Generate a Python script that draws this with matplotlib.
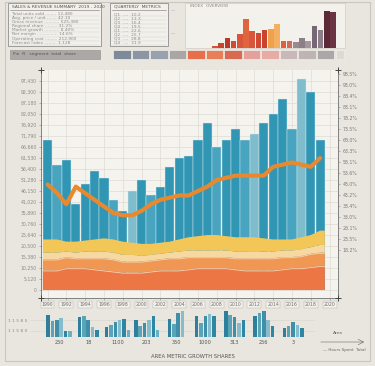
import numpy as np
import matplotlib
matplotlib.use("Agg")
import matplotlib.pyplot as plt
from matplotlib.patches import Rectangle

# ============================================================
# DATA
# ============================================================

bar_values = [68, 57, 59, 39, 48, 54, 51, 41, 36, 45, 50, 43, 47, 56, 60,
              61, 68, 76, 65, 68, 73, 68, 71, 76, 80, 87, 73, 96, 90, 68]
bar_shade = [0, 1, 0, 0, 0, 0, 0, 1, 0, 2, 0, 1, 0, 0, 0,
             0, 0, 0, 1, 0, 0, 1, 2, 0, 0, 0, 1, 2, 0, 0]
trend_line = [48, 44, 39, 47, 44, 41, 38, 35, 34, 34, 36, 39, 41, 42, 43,
              43, 45, 47, 50, 51, 52, 52, 52, 52, 56, 57, 58, 57, 56, 60]

band_dark = [9, 9, 10, 10, 10, 9.5, 9, 8.5, 8, 8, 8, 8.5, 9, 9, 9,
             9.5, 10, 10, 10, 10, 9.5, 9, 9, 9, 9, 9.5, 10, 10, 10.5, 11]
band_mid = [5, 5, 5, 4.5, 4.5, 5, 5.5, 5.5, 5, 5, 5, 5, 5, 5.5, 5.5,
            5.5, 5, 5, 5, 5, 5, 5.5, 5.5, 5.5, 5.5, 5.5, 5, 5.5, 6, 6]
band_cream = [3, 3, 2.5, 2.5, 3, 3, 3, 3, 3, 3, 2.5, 2.5, 2.5, 2.5, 3,
              3, 3, 3, 3, 3, 3, 3, 3, 3, 3, 3, 3, 3, 3, 3.5]
band_yellow = [6, 6, 4.5, 5, 5, 5.5, 6, 6, 6, 5.5, 5.5, 5, 5, 5, 5.5,
               6, 6.5, 7, 7, 6.5, 6.5, 6.5, 6.5, 6, 5.5, 5, 5, 5.5, 5.5, 6.5]

x_labels = ["1990", "1992", "1994", "1996", "1998", "2000", "2002", "2004",
            "2006", "2008", "2010", "2012", "2014", "2016", "2018", "2020"]
left_labels = ["0", "5,120", "10,250", "15,380", "20,500", "25,640", "30,760",
               "35,890", "41,020", "46,150", "51,280", "56,400", "61,530",
               "66,660", "71,790", "76,920", "82,050", "87,180", "92,300",
               "97,430"]
right_labels = ["18.2%", "23.5%", "28.1%", "33.0%", "38.4%", "43.2%", "48.0%",
                "53.6%", "58.1%", "63.3%", "68.0%", "73.5%", "78.2%", "83.1%",
                "88.4%", "93.0%", "98.5%"]

mini_heights = [5, 15, 30, 20, 40, 85, 50, 45, 53, 57, 70, 20, 20, 17, 30,
                20, 65, 53, 110, 105]
mini_colors = ["#d0553a", "#c9452f", "#b8382a", "#d24a33", "#d9563a", "#e0653f",
               "#d9563c", "#cf4a35", "#c9432f", "#f0a24a", "#f3b064", "#e0603e",
               "#d06a5c", "#9a8a90", "#8c8088", "#a6979c", "#776673", "#8d7f8a",
               "#5c2a36", "#6a3442"]

cell_colors = ["#7e899a", "#8c95a4", "#98a1ae", "#aaa6a4", "#e6704c", "#e87f5a",
               "#d86a52", "#e4a19c", "#e6aba2", "#c9b8b8", "#bdb4b4", "#aaa7a9"]

group_labels = ["250", "18", "1100", "203", "350", "1000", "313", "256", "3"]
group_values = [
    [22, 16, 17, 19, 6, 6],
    [20, 21, 17, 10, 7],
    [10, 12, 15, 17, 18, 7],
    [17, 11, 14, 17, 21, 7],
    [18, 13, 24, 26],
    [21, 14, 21, 23, 21],
    [26, 22, 20, 14, 17],
    [21, 24, 26, 17, 11],
    [9, 11, 15, 12, 9],
]

# ============================================================
# FIGURE
# ============================================================

W, H = 375, 366
fig = plt.figure(figsize=(3.75, 3.66), dpi=100)
fig.patch.set_facecolor("#e9e6df")


def px_axes(x0, y0, x1, y1, **kw):
    # axes from pixel box (top-left origin)
    return fig.add_axes([x0 / W, 1 - y1 / H, (x1 - x0) / W, (y1 - y0) / H], **kw)


# background overlay for boxes and loose text
bg = fig.add_axes([0, 0, 1, 1], zorder=0)
bg.set_xlim(0, W)
bg.set_ylim(H, 0)
bg.axis("off")
bg.add_patch(Rectangle((5, 2), 365, 359, fill=False, ec="#c9c6bf", lw=0.8))

# header boxes
for (x0, y0, x1, y1) in [(8, 3, 101, 46), (110, 3, 168, 46)]:
    bg.add_patch(Rectangle((x0, y0), x1 - x0, y1 - y0, fc="#f2f0ea", ec="#8e8e8e", lw=0.6))
bg.add_patch(Rectangle((185, 3), 160, 45, fc="#f3f1eb", ec="#d0cdc6", lw=0.5))

txt = dict(fontsize=3.1, color="#8a8a8a", family="DejaVu Sans")
bg.text(12, 7, "SALES & REVENUE SUMMARY  2019 - 2020", va="center",
        fontsize=3.2, color="#555555")
bg.plot([10, 99], [10, 10], color="#777777", lw=0.4)
head_lines = ["Total units sold ........ 12,480", "Avg. price / unit ....... 42.10",
              "Gross revenue ........... 525,380", "Regional share ......... 31.2%",
              "Market growth ........... 8.40%", "Net margin ............... 14.6%",
              "Operating cost ......... 212,900", "Forecast index ......... 1.128"]
for i, s in enumerate(head_lines):
    bg.text(12, 14 + i * 4.1, s, va="center", **txt)
    bg.plot([10, 99], [16 + i * 4.1] * 2, color="#cfcfcf", lw=0.3)
bg.text(114, 7, "QUARTERLY  METRICS", va="center", fontsize=3.2, color="#555555")
bg.plot([112, 166], [10, 10], color="#777777", lw=0.4)
for i in range(8):
    bg.text(114, 14 + i * 4.1, "Q%d  ....  %d.%d" % (i % 4 + 1, 10 + 3 * i, i + 2), va="center", **txt)
    bg.plot([112, 166], [16 + i * 4.1] * 2, color="#cfcfcf", lw=0.3)
bg.text(171, 10, "—", va="center", **txt)
bg.text(171, 33, "—", va="center", **txt)
bg.text(190, 6, "INDEX  OVERVIEW", va="center", **txt)

# cells row
bg.add_patch(Rectangle((10, 50), 90, 9, fc="#aaa9a7", ec="#8a8a8a", lw=0.4))
bg.text(13, 54.5, "Pie  R   segment  total  share", va="center", fontsize=3.2, color="#555555")
cell_x = 113
for c in cell_colors:
    bg.add_patch(Rectangle((cell_x, 50), 17.5, 9, fc=c, ec="#f0eee8", lw=0.5))
    cell_x += 18.5
bg.add_patch(Rectangle((336, 50), 8, 9, fc="#dcdad5", ec="#f0eee8", lw=0.5))

# mini bar chart in header
mini = px_axes(210, 8, 338, 48, zorder=2)
mini.patch.set_alpha(0)
mini.bar(np.arange(len(mini_heights)), mini_heights, width=0.9, color=mini_colors)
mini.set_xlim(-0.8, len(mini_heights) - 0.2)
mini.set_ylim(0, 118)
mini.axis("off")

# ============================================================
# MAIN CHART
# ============================================================

ax = px_axes(41, 70, 338, 298, zorder=3)
ax.set_facecolor("#f5f3ed")
x = np.arange(len(bar_values))
teals = ["#3195b4", "#49a5bf", "#7fbccc"]
ax.bar(x, bar_values, width=0.97, color=[teals[s] for s in bar_shade],
       edgecolor="#d7ecf0", linewidth=0.3, zorder=2)

layers = np.vstack([band_dark, band_mid, band_cream, band_yellow])
xx = np.concatenate([[-0.5], x, [len(x) - 0.5]])
layers = np.hstack([layers[:, :1], layers, layers[:, -1:]])
ax.stackplot(xx, layers, colors=["#ec7745", "#f09853", "#f6d8a0", "#f3c757"], zorder=3)
cum = np.cumsum(layers, axis=0)
for row in cum[:2]:
    ax.plot(xx, row - 0.3, color="#f9d3b2", lw=0.6, zorder=3.5)

ax.plot(x, trend_line, color="#e8892f", lw=3, solid_capstyle="round", zorder=4)

ax.set_xlim(-0.7, 30.9)
ax.set_ylim(-3.6, 100)
ax.set_xticks(np.arange(0, 31, 2))
ax.set_xticklabels(x_labels, fontsize=3.3, color="#6e6e6e")
for lab in ax.get_xticklabels():
    lab.set_bbox(dict(fc="#f2f0ea", ec="#b0aea8", lw=0.3, pad=0.8))
ax.set_yticks(np.arange(0, 100, 5))
ax.set_yticklabels(left_labels, fontsize=3.3, color="#8a8a8a")
ax.tick_params(length=1.5, width=0.4, color="#888888", pad=1.5)
ax.grid(color="#dedbd4", lw=0.5, zorder=0)
ax.set_axisbelow(True)
ax.spines["top"].set_visible(False)
for side in ["left", "right", "bottom"]:
    ax.spines[side].set_color("#707070")
    ax.spines[side].set_linewidth(0.6)
ax.plot([-0.7, 30.9, -0.7, 30.9], [100, 100, -3.6, -3.6], "+", color="#444444",
        ms=4, mew=0.7, clip_on=False, zorder=5)

ax2 = ax.twinx()
ax2.set_ylim(ax.get_ylim())
ax2.set_yticks(np.arange(18, 100, 5))
ax2.set_yticklabels(right_labels, fontsize=3.3, color="#7a7a7a")
ax2.tick_params(length=1.5, width=0.4, color="#888888", pad=2)
for side in ["top", "left", "bottom", "right"]:
    ax2.spines[side].set_visible(False)

# ============================================================
# BOTTOM GROUPED BARS
# ============================================================

bx = px_axes(30, 305, 315, 337, zorder=3)
bx.patch.set_alpha(0)
shades = ["#2d7f9b", "#5aa4ba", "#3f8fa9", "#86bccb", "#2f86a3", "#6cb0c3"]
for i, vals in enumerate(group_values):
    n = len(vals)
    pos = i + (np.arange(n) - (n - 1) / 2) * 0.15
    bx.bar(pos, vals, width=0.12, color=shades[:n])
bx.set_xlim(-0.99, 8.75)
bx.set_ylim(0, 32)
bx.set_xticks(np.arange(len(group_labels)))
bx.set_xticklabels(group_labels, fontsize=3.6, color="#555555")
bx.set_yticks([6, 17])
bx.set_yticklabels(["1 1 5 8 0", "1 1 5 8 5"], fontsize=3.2, color="#8a8a8a")
bx.tick_params(length=0, pad=2)
bx.grid(axis="y", color="#d8d5ce", lw=0.4)
bx.set_axisbelow(True)
for side in bx.spines.values():
    side.set_visible(False)

bg.text(193, 356, "AREA METRIC GROWTH SHARES", ha="center", va="center",
        fontsize=3.8, color="#555555")
bg.text(338, 333, "Area", ha="center", va="center", fontsize=3.2, color="#666666")
bg.annotate("", xy=(367, 342), xytext=(318, 342),
            arrowprops=dict(arrowstyle="->", lw=0.4, color="#666666"))
bg.text(366, 350, "— Hours Spent  Total", ha="right", va="center", fontsize=3, color="#666666")

fig.savefig("out.png", dpi=100, facecolor=fig.get_facecolor())
